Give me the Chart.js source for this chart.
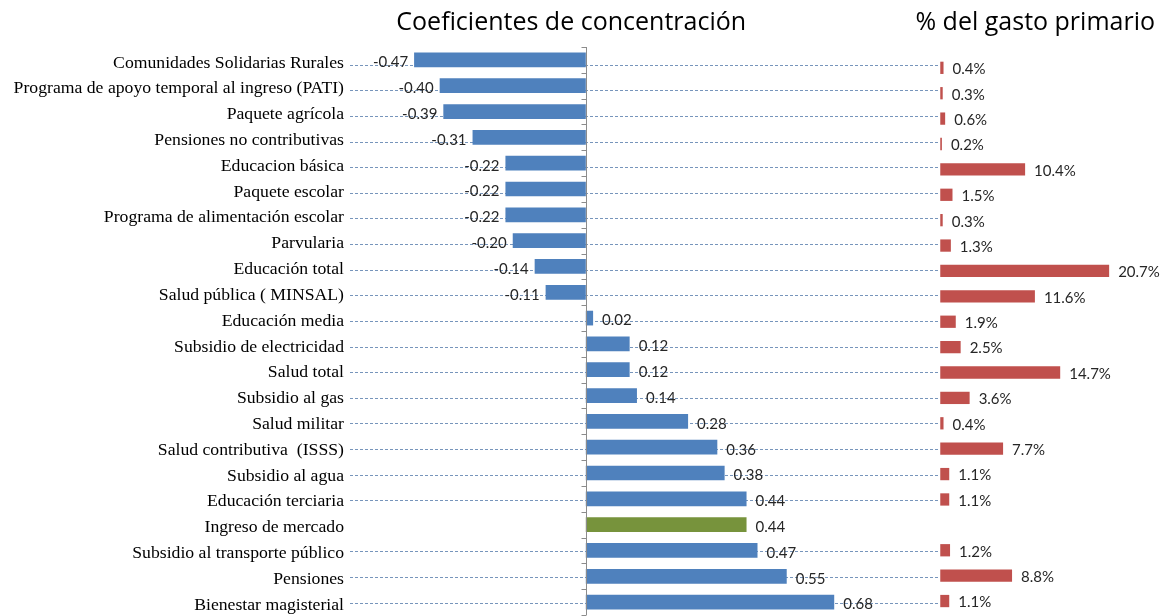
<!DOCTYPE html>
<html>
<head>
<meta charset="utf-8">
<script src="https://cdn.jsdelivr.net/npm/chart.js@4/dist/chart.umd.min.js"></script>
<style>
  html, body { margin: 0; padding: 0; background: #fff; }
  #chart { display: block; }
</style>
</head>
<body>
<canvas id="chart" width="1163" height="616"></canvas>
<script>
const categories = [
    'Comunidades Solidarias Rurales',
    'Programa de apoyo temporal al ingreso (PATI)',
    'Paquete agrícola',
    'Pensiones no contributivas',
    'Educacion básica',
    'Paquete escolar',
    'Programa de alimentación escolar',
    'Parvularia',
    'Educación total',
    'Salud pública ( MINSAL)',
    'Educación media',
    'Subsidio de electricidad',
    'Salud total',
    'Subsidio al gas',
    'Salud militar',
    'Salud contributiva  (ISSS)',
    'Subsidio al agua',
    'Educación terciaria',
    'Ingreso de mercado',
    'Subsidio al transporte público',
    'Pensiones',
    'Bienestar magisterial'
];
const coeficientes = [-0.47, -0.40, -0.39, -0.31, -0.22, -0.22, -0.22, -0.20, -0.14, -0.11,
    0.02, 0.12, 0.12, 0.14, 0.28, 0.36, 0.38, 0.44, 0.44, 0.47, 0.55, 0.68];
const gasto_primario = [0.4, 0.3, 0.6, 0.2, 10.4, 1.5, 0.3, 1.3, 20.7, 11.6,
    1.9, 2.5, 14.7, 3.6, 0.4, 7.7, 1.1, 1.1, null, 1.2, 8.8, 1.1];
const destacado = 'Ingreso de mercado';
const titulo_izq = 'Coeficientes de concentración';
const titulo_der = '% del gasto primario';

const BLUE = '#4f81bd';
const GREEN = '#77933c';
const RED = '#c0504d';
const LABEL_FONT = '15px Lato, "Open Sans", sans-serif';
const TITLE_FONT = '25px "Open Sans", Lato, sans-serif';

// the right panel is its own little plot: rows a bit tighter, starting lower
const gastoPoints = gasto_primario
    .map((v, i) => ({x: v, y: i}))
    .filter(p => p.x !== null);

const decorations = {
    id: 'decorations',
    beforeDatasetsDraw(chart) {
        const {ctx, chartArea, scales} = chart;
        const {y, y2, x2} = scales;
        ctx.save();
        ctx.strokeStyle = 'rgba(95,130,175,0.85)';
        ctx.lineWidth = 1;
        ctx.setLineDash([3, 2]);
        categories.forEach((c, i) => {
            if (gasto_primario[i] === null) return;
            const py = Math.round((y.getPixelForValue(i) + y2.getPixelForValue(i)) / 2 + 1) + 0.5;
            ctx.beginPath();
            ctx.moveTo(chartArea.left - 2, py);
            ctx.lineTo(x2.getPixelForValue(0) - 2, py);
            ctx.stroke();
        });
        ctx.restore();
    },
    afterDatasetsDraw(chart) {
        const {ctx, scales} = chart;
        const {y, y2, x, x2} = scales;
        const zero = Math.round(x.getPixelForValue(0)) + 0.5;
        const step = y.getPixelForValue(1) - y.getPixelForValue(0);

        ctx.save();
        ctx.strokeStyle = '#8c8c8c';
        ctx.lineWidth = 1;
        ctx.beginPath();
        ctx.moveTo(zero, y.getPixelForValue(0) - step / 2);
        ctx.lineTo(zero, y.getPixelForValue(categories.length - 1) + step / 2);
        for (let i = 0; i <= categories.length; i++) {
            const ty = Math.round(y.getPixelForValue(i) - step / 2) + 0.5;
            ctx.moveTo(zero - 5, ty);
            ctx.lineTo(zero, ty);
        }
        ctx.stroke();

        ctx.font = LABEL_FONT;
        ctx.fillStyle = '#262626';
        ctx.textBaseline = 'middle';
        coeficientes.forEach((v, i) => {
            const py = y.getPixelForValue(i) + 2.5;
            const end = x.getPixelForValue(v);
            if (v < 0) {
                ctx.textAlign = 'right';
                ctx.fillText(v.toFixed(2), end - 6, py);
            } else {
                ctx.textAlign = 'left';
                ctx.fillText(v.toFixed(2), end + 9, py);
            }
        });
        ctx.textAlign = 'left';
        gastoPoints.forEach(p => {
            ctx.fillText(p.x.toFixed(1) + '%', x2.getPixelForValue(p.x) + 9, y2.getPixelForValue(p.y) + 1.5);
        });

        ctx.font = TITLE_FONT;
        ctx.fillStyle = '#000';
        ctx.textBaseline = 'alphabetic';
        ctx.textAlign = 'center';
        ctx.fillText(titulo_izq, x.getPixelForValue(-0.04), 30);
        ctx.textAlign = 'right';
        ctx.fillText(titulo_der, chart.width - 8, 30);
        ctx.restore();
    }
};

new Chart(document.getElementById('chart'), {
    type: 'bar',
    data: {
        labels: categories,
        datasets: [{
            label: 'Coeficientes de concentración',
            data: coeficientes,
            xAxisID: 'x',
            yAxisID: 'y',
            backgroundColor: categories.map(c => c === destacado ? GREEN : BLUE),
            grouped: false,
            categoryPercentage: 1,
            barPercentage: 0.57
        }, {
            label: '% del gasto primario',
            data: gastoPoints,
            xAxisID: 'x2',
            yAxisID: 'y2',
            backgroundColor: RED,
            grouped: false,
            categoryPercentage: 1,
            barPercentage: 0.59
        }]
    },
    plugins: [decorations],
    options: {
        indexAxis: 'y',
        responsive: false,
        animation: false,
        layout: { padding: { top: 47, bottom: 1, left: 0, right: 0 } },
        plugins: {
            legend: { display: false },
            tooltip: { enabled: false }
        },
        scales: {
            y: {
                position: 'left',
                afterFit: (s) => {
                    s.width = 352;
                    s.paddingTop = 0;
                    s.paddingBottom = 0;
                },
                grid: { display: false, drawTicks: false },
                border: { display: false },
                ticks: {
                    color: '#000',
                    padding: 8,
                    labelOffset: 3,
                    font: { family: '"Liberation Serif", "Times New Roman", serif', size: 17.7 }
                }
            },
            y2: {
                type: 'linear',
                display: false,
                offset: false,
                reverse: true,
                min: -0.82,
                max: 21.55
            },
            x: {
                display: false,
                min: -0.64,
                max: 1.58
            },
            x2: {
                display: false,
                min: -72.1,
                max: 27.3
            }
        }
    }
});
</script>
</body>
</html>
